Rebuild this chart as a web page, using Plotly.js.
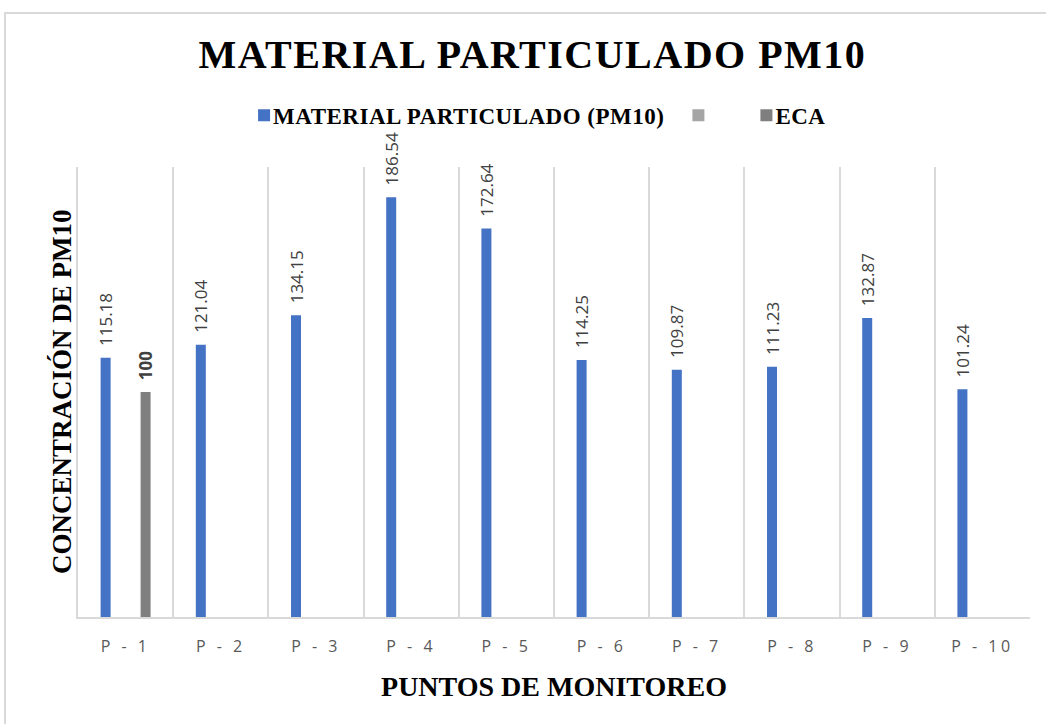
<!DOCTYPE html>
<html>
<head>
<meta charset="utf-8">
<script src="https://cdn.plot.ly/plotly-3.0.1.min.js"></script>
<style>
  html, body { margin: 0; padding: 0; background: #ffffff; }
  #frame { position: absolute; left: 4px; top: 12px; width: 1200px; height: 900px;
           border-top: 2px solid #d9d9d9; border-left: 2px solid #d9d9d9; }
  #chart { position: absolute; left: 0; top: 0; width: 1046px; height: 724px; }
  #chart .gtitle { letter-spacing: 1.5px; }
  #chart .xtick text { letter-spacing: 3.5px; }
  #chart .legend .legendtext { letter-spacing: 0.5px; transform: translateX(-11px); }
</style>
</head>
<body>
<div id="frame"></div>
<div id="chart"></div>
<script>
const categories = ["P - 1", "P - 2", "P - 3", "P - 4", "P - 5", "P - 6", "P - 7", "P - 8", "P - 9", "P - 10"];
const pm10Values = [115.18, 121.04, 134.15, 186.54, 172.64, 114.25, 109.87, 111.23, 132.87, 101.24];
const blankValues = [null, null, null, null, null, null, null, null, null, null];
const ecaValues = [100, null, null, null, null, null, null, null, null, null];

const pad = "\u00a0\u00a0";
const labelFont = {family: "Open Sans, Liberation Sans, sans-serif", size: 17, color: "#404040"};

const traces = [
  {
    type: "bar", name: "<b>MATERIAL PARTICULADO (PM10)</b>\u00a0\u00a0", x: categories, y: pm10Values,
    marker: {color: "#4472c4"},
    text: pm10Values.map(v => pad + v.toFixed(2)), textposition: "outside", textangle: -90,
    textfont: labelFont, constraintext: "none", cliponaxis: false, hoverinfo: "x+y"
  },
  {
    type: "bar", name: "\u00a0\u00a0\u00a0\u00a0", x: categories, y: blankValues,
    marker: {color: "#a5a5a5"}, hoverinfo: "skip"
  },
  {
    type: "bar", name: "<b>ECA</b>", x: categories, y: ecaValues,
    marker: {color: "#7f7f7f"},
    text: ecaValues.map(v => v === null ? "" : pad + "<b>" + v + "</b>"), textposition: "outside", textangle: -90,
    textfont: labelFont, constraintext: "none", cliponaxis: false, hoverinfo: "x+y"
  }
];

const serif = "Liberation Serif, Times New Roman, serif";
const layout = {
  width: 1046, height: 724,
  paper_bgcolor: "rgba(0,0,0,0)", plot_bgcolor: "rgba(0,0,0,0)",
  margin: {l: 78, r: 16, t: 167, b: 107},
  title: {text: "<b>MATERIAL PARTICULADO PM10</b>", font: {family: serif, size: 40, color: "#000000"},
          x: 0.509, xref: "container", xanchor: "center", y: 0.925, yref: "container", yanchor: "middle"},
  barmode: "group", bargap: 0.37, bargroupgap: 0.5,
  showlegend: true,
  legend: {orientation: "h", x: 0.488, xanchor: "center", y: 1.115, yanchor: "middle",
           font: {family: serif, size: 23, color: "#000000"}, traceorder: "normal"},
  xaxis: {
    type: "category", tickson: "boundaries", showgrid: true, gridcolor: "#d9d9d9", gridwidth: 1.5,
    showline: true, linecolor: "#d9d9d9", linewidth: 1.5, ticks: "", ticklabelstandoff: 14,
    tickfont: {family: "Open Sans, Liberation Sans, sans-serif", size: 16, color: "#595959"},
    title: {text: "<b>PUNTOS DE MONITOREO</b>", font: {family: serif, size: 28, color: "#000000"}, standoff: 20},
    fixedrange: true
  },
  yaxis: {
    range: [0, 200], showgrid: false, zeroline: false, showticklabels: false, ticks: "",
    showline: true, linecolor: "#d9d9d9", linewidth: 1.5,
    fixedrange: true
  },
  annotations: [{
    text: "<b>CONCENTRACIÓN DE PM10</b>", textangle: -90, showarrow: false,
    xref: "paper", yref: "paper", x: -0.0168, y: 0.5, xanchor: "center", yanchor: "middle",
    font: {family: serif, size: 27, color: "#000000"}
  }]
};

Plotly.newPlot("chart", traces, layout, {displayModeBar: false, staticPlot: false});
</script>
</body>
</html>
